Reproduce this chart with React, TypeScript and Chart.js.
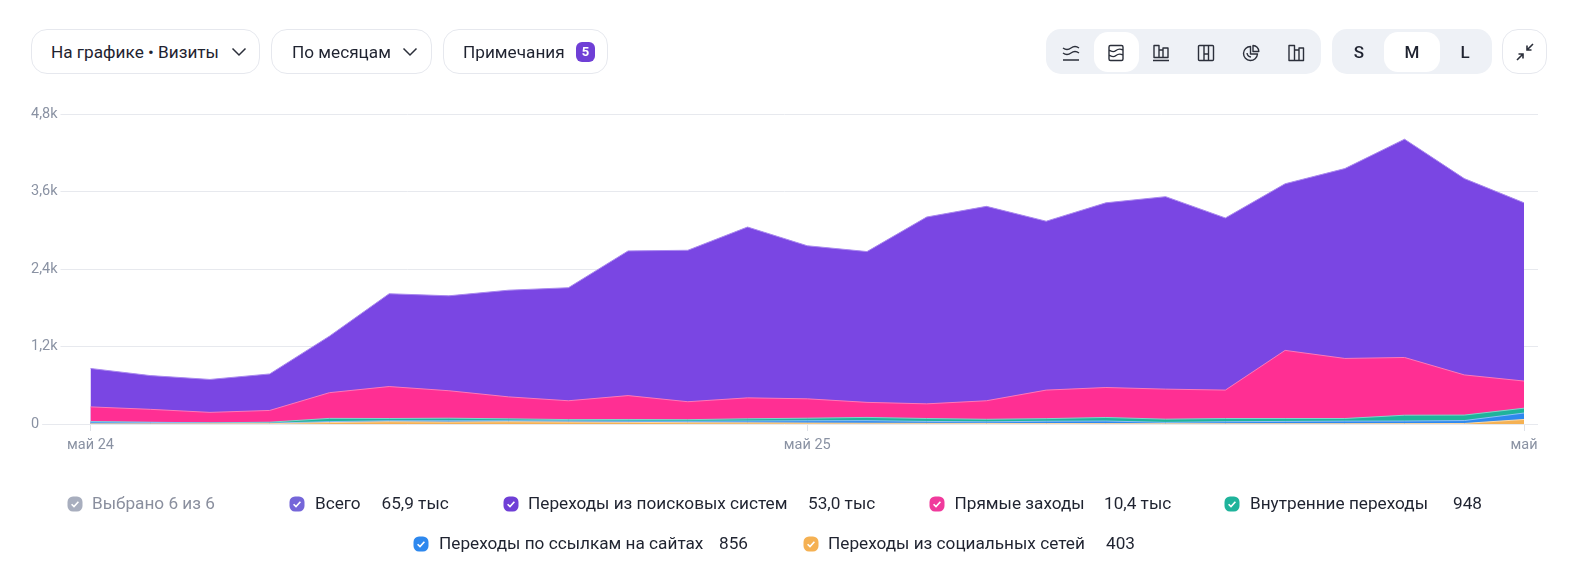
import React, { useEffect, useRef } from "react";
import { Chart, registerables } from "chart.js";

Chart.register(...registerables);

const FONT = "Roboto, 'Noto Sans', sans-serif";

const months = [
  "май 24", "июн", "июл", "авг", "сен", "окт", "ноя", "дек", "янв", "фев", "мар", "апр",
  "май 25", "июн", "июл", "авг", "сен", "окт", "ноя", "дек", "янв", "фев", "мар", "апр", "май",
];
const labelledTicks = [0, 12, 24];
const yTickLabels: Record<number, string> = { 0: "0", 1200: "1,2k", 2400: "2,4k", 3600: "3,6k", 4800: "4,8k" };

const social = [2, 2, 3, 5, 22, 35, 30, 35, 30, 25, 20, 18, 15, 12, 10, 8, 8, 6, 5, 5, 5, 5, 6, 8, 70];
const links = [30, 22, 12, 8, 15, 15, 20, 15, 18, 20, 22, 28, 35, 40, 30, 25, 35, 40, 20, 30, 35, 40, 40, 45, 100];
const internal = [5, 3, 3, 15, 50, 35, 40, 30, 20, 25, 25, 35, 40, 50, 45, 40, 40, 55, 50, 50, 45, 40, 90, 85, 75];
const direct = [228, 200, 162, 182, 398, 495, 425, 340, 292, 370, 278, 324, 300, 233, 227, 287, 442, 464, 465, 440, 1055, 930, 894, 622, 420];
const search = [595, 523, 510, 565, 875, 1437, 1470, 1652, 1750, 2240, 2345, 2645, 2370, 2335, 2893, 3010, 2615, 2860, 2980, 2665, 2580, 2940, 3380, 3040, 2760];

const legendNames = [
  "Всего",
  "Переходы из поисковых систем",
  "Прямые заходы",
  "Внутренние переходы",
  "Переходы по ссылкам на сайтах",
  "Переходы из социальных сетей",
];
const legendValues = ["65,9 тыс", "53,0 тыс", "10,4 тыс", "948", "856", "403"];
const legendColors = ["#7566d9", "#6f3fd6", "#f03a9c", "#1fb39b", "#2e88ee", "#f5b153"];
const legendChecks = [297, 510.5, 937, 1232, 421, 811];
const legendTexts = [315, 528, 954.5, 1250, 439, 828];
const legendNums = [381.5, 808, 1104, 1453, 719, 1106];
const legendRows = [503.5, 503.5, 503.5, 503.5, 543.5, 543.5];

const abs = (x: number, y: number, w?: number, h?: number): React.CSSProperties => ({
  position: "absolute", left: x, top: y, width: w, height: h, boxSizing: "border-box",
});

function Chevron({ x }: { x: number }) {
  return (
    <svg style={abs(x - 9, 44, 18, 16)} viewBox="0 0 18 16" fill="none" stroke="#2b2f3a" strokeWidth="1.5">
      <path d="M2.5 4.5 L9 11 L15.5 4.5" />
    </svg>
  );
}

function Icon({ cx, d }: { cx: number; d: string }) {
  return (
    <svg style={abs(cx - 10, 42.5, 20, 20)} viewBox="0 0 20 20" fill="none" stroke="#2b2f3a" strokeWidth="1.4" strokeLinejoin="round">
      <path d={d} />
    </svg>
  );
}

function Check({ x, y, color }: { x: number; y: number; color: string }) {
  return (
    <svg style={abs(x - 8, y - 8, 16, 16)} viewBox="0 0 16 16">
      <rect x="0.5" y="0.5" width="15" height="15" rx="5.5" fill={color} />
      <path d="M4.6 8.2 L7 10.6 L11.4 5.8" fill="none" stroke="#fff" strokeWidth="1.6" />
    </svg>
  );
}

const pill: React.CSSProperties = { border: "1px solid #e6e8ee", borderRadius: 16, background: "#fff" };
const textRow = (x: number, y: number, color: string, size = 17.2): React.CSSProperties => ({
  position: "absolute", left: x, top: y - 12, height: 24, lineHeight: "24px", fontSize: size, color, whiteSpace: "nowrap",
});

export default function App() {
  const ref = useRef<HTMLCanvasElement>(null);

  useEffect(() => {
    const series = [
      { label: legendNames[5], data: social, fill: "#f5b153", line: "#fbd9a6" },
      { label: legendNames[4], data: links, fill: "#2e88ee", line: "#8cc0f7" },
      { label: legendNames[3], data: internal, fill: "#1fb39b", line: "#7fd6c8" },
      { label: legendNames[2], data: direct, fill: "#ff2f93", line: "#ff78b8" },
      { label: legendNames[1], data: search, fill: "#7a46e3", line: "#a988ee" },
    ];
    const chart = new Chart(ref.current!, {
      type: "line",
      data: {
        datasets: series.map((s) => ({
          label: s.label,
          data: s.data.map((v, i) => ({ x: i, y: v })),
          backgroundColor: s.fill,
          borderColor: s.line,
          borderWidth: 1,
          fill: true,
          pointRadius: 0,
          tension: 0,
        })),
      },
      options: {
        animation: false,
        responsive: false,
        devicePixelRatio: 1,
        layout: { padding: { top: 114, left: 31, right: 44, bottom: 0 } },
        plugins: { legend: { display: false }, tooltip: { enabled: false } },
        scales: {
          x: {
            type: "linear",
            min: -0.9965,
            max: 24.234,
            afterBuildTicks: (scale: any) => {
              scale.ticks = labelledTicks.map((v) => ({ value: v }));
            },
            afterFit: (scale: any) => {
              scale.height = 162;
            },
            grid: { drawOnChartArea: false, drawTicks: true, tickLength: 7, color: "#dfe2e8" },
            border: { display: false },
            ticks: {
              autoSkip: false,
              maxRotation: 0,
              padding: 6,
              color: "#8a92a3",
              font: { family: FONT, size: 14.5 },
              callback: (v: any) => months[Number(v)],
            },
          },
          y: {
            stacked: true,
            min: 0,
            max: 4800,
            grid: { color: "#e7e9ee", lineWidth: 1, drawTicks: false },
            border: { display: false },
            ticks: {
              stepSize: 1200,
              mirror: true,
              padding: 0,
              color: "#8a92a3",
              font: { family: FONT, size: 14.5 },
              showLabelBackdrop: true,
              backdropColor: "#ffffff",
              backdropPadding: { left: 0, right: 3, top: 2, bottom: 2 },
              callback: (v: any) => yTickLabels[Number(v)],
            },
          },
        },
      },
    });
    return () => chart.destroy();
  }, []);

  return (
    <div style={{ position: "fixed", left: 0, top: 0, width: 1582, height: 586, background: "#fff", fontFamily: FONT, color: "#1f2330", overflow: "hidden" }}>
      <canvas ref={ref} width={1582} height={586} style={{ position: "absolute", left: 0, top: 0 }} />

      <div style={{ ...abs(31, 29, 229, 45), ...pill }} />
      <div style={textRow(51, 51.5, "#1f2330")}>На графике • Визиты</div>
      <Chevron x={239} />
      <div style={{ ...abs(271, 29, 161, 45), ...pill }} />
      <div style={textRow(292, 51.5, "#1f2330")}>По месяцам</div>
      <Chevron x={410} />
      <div style={{ ...abs(443, 29, 165, 45), ...pill }} />
      <div style={textRow(463, 51.5, "#1f2330")}>Примечания</div>
      <div style={{ ...abs(576, 41.5, 19, 20), background: "#6f3fd6", borderRadius: 6, color: "#fff", fontSize: 13, fontWeight: 700, textAlign: "center", lineHeight: "20px" }}>5</div>

      <div style={{ ...abs(1046, 29, 275, 45), background: "#eef1f6", borderRadius: 15 }} />
      <div style={{ ...abs(1094, 32, 45, 39.5), background: "#fff", borderRadius: 14 }} />
      <Icon cx={1071} d="M2 5 Q6 8 10 5 T18 5 M2 10 Q6 13 10 10 T18 10 M2 17 H18" />
      <Icon cx={1116} d="M3 4 Q3 2.5 4.5 2.5 H15.5 Q17 2.5 17 4 V16 Q17 17.5 15.5 17.5 H4.5 Q3 17.5 3 16 Z M3 7 Q7 10 10 7.5 T17 7 M3 12 Q7 15 10 12.5 T17 12" />
      <Icon cx={1161} d="M3 2.5 H8 V14.5 H3 Z M8 7 H12 V14.5 H8 Z M12 5 H17 V14.5 H12 Z M2 17.5 H18" />
      <Icon cx={1206} d="M3.5 2.5 H16.5 Q17.5 2.5 17.5 3.5 V16.5 Q17.5 17.5 16.5 17.5 H3.5 Q2.5 17.5 2.5 16.5 V3.5 Q2.5 2.5 3.5 2.5 Z M8 2.5 V17.5 M12.5 2.5 V17.5 M8 11 H12.5" />
      <Icon cx={1251} d="M9.5 3.5 A7 7 0 1 0 16.5 11 H9.5 Z M12 2.5 A6 6 0 0 1 17.8 8.5 H12 Z M6 10 A4.5 4.5 0 0 0 10 14" />
      <Icon cx={1296} d="M3 2.5 H8.5 V17.5 H3 Z M8.5 7 H13 V17.5 H8.5 Z M13 5 H17.5 V17.5 H13 Z" />

      <div style={{ ...abs(1332, 29, 160, 45), background: "#eef1f6", borderRadius: 15 }} />
      <div style={{ ...abs(1384, 32, 56, 39.5), background: "#fff", borderRadius: 14 }} />
      {["S", "M", "L"].map((t, i) => (
        <div key={t} style={{ ...abs([1339, 1392, 1445][i], 39.5, 40, 24), textAlign: "center", lineHeight: "24px", fontSize: 17, fontWeight: 500, color: "#1f2330" }}>{t}</div>
      ))}
      <div style={{ ...abs(1502, 29, 45, 45), ...pill }} />
      <svg style={abs(1515, 41.5, 20, 20)} viewBox="0 0 20 20" fill="none" stroke="#2b2f3a" strokeWidth="1.6">
        <path d="M18 2 L12 8 M12 3.5 V8 H16.5 M2 18 L8 12 M3.5 12 H8 V16.5" />
      </svg>

      <Check x={75} y={503.5} color="#a8aebe" />
      <div style={textRow(92, 502.5, "#8a8f9e")}>Выбрано 6 из 6</div>
      {legendNames.map((name, i) => (
        <React.Fragment key={name}>
          <Check x={legendChecks[i]} y={legendRows[i]} color={legendColors[i]} />
          <div style={textRow(legendTexts[i], legendRows[i] - 1, "#1f2330")}>{name}</div>
          <div style={textRow(legendNums[i], legendRows[i] - 1, "#1f2330")}>{legendValues[i]}</div>
        </React.Fragment>
      ))}
    </div>
  );
}
